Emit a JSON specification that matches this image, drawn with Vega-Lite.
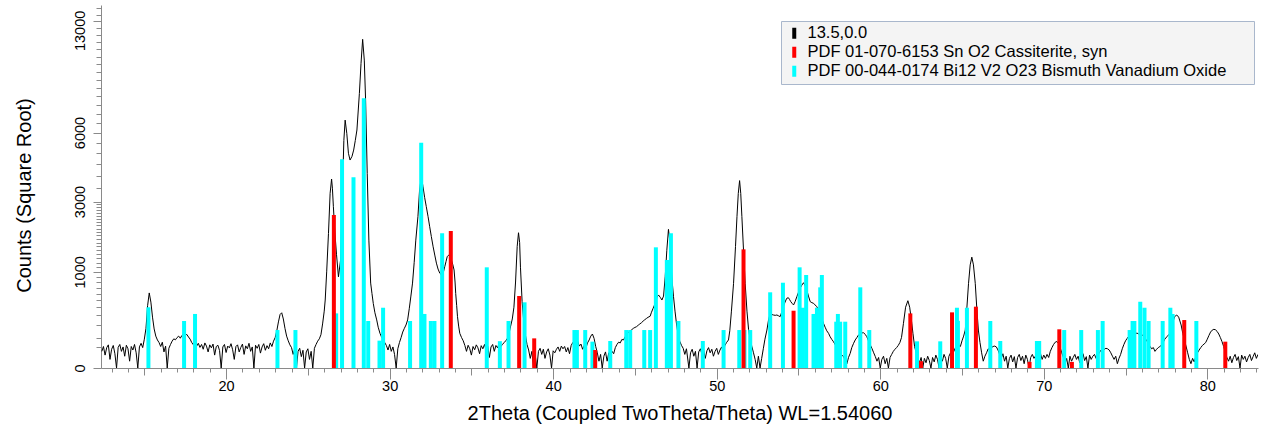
{
"$schema": "https://vega.github.io/schema/vega-lite/v6.json",
"width": 1157,
"height": 363,
"autosize": {"type": "none"},
"padding": {"left": 101, "top": 5, "right": 7, "bottom": 65},
"background": "white",
"config": {"view": {"stroke": null}, "font": "Liberation Sans"},
"datasets": {
"scan": [
{"x":12.4,"y":30},{"x":12.5,"y":50},{"x":12.6,"y":18},{"x":12.7,"y":45},{"x":12.8,"y":58},{"x":12.9,"y":8},{"x":13.0,"y":38},{"x":13.1,"y":55},{"x":13.2,"y":22},{"x":13.3,"y":0},{"x":13.4,"y":46},{"x":13.5,"y":60},{"x":13.6,"y":30},{"x":13.7,"y":48},{"x":13.8,"y":15},{"x":13.9,"y":56},{"x":14.0,"y":40},{"x":14.1,"y":5},{"x":14.2,"y":50},{"x":14.3,"y":35},{"x":14.4,"y":60},{"x":14.5,"y":25},{"x":14.6,"y":0},{"x":14.7,"y":48},{"x":14.8,"y":66},{"x":14.9,"y":45},
{"x":15.0,"y":90},{"x":15.1,"y":170},{"x":15.2,"y":420},{"x":15.3,"y":610},{"x":15.4,"y":470},{"x":15.5,"y":280},{"x":15.6,"y":165},{"x":15.7,"y":110},{"x":15.8,"y":85},{"x":15.9,"y":70},{"x":16.0,"y":50},{"x":16.1,"y":72},{"x":16.2,"y":28},{"x":16.3,"y":52},{"x":16.4,"y":0},{"x":16.5,"y":42},{"x":16.6,"y":60},{"x":16.7,"y":78},{"x":16.8,"y":92},{"x":16.9,"y":86},{"x":17.0,"y":100},{"x":17.1,"y":110},{"x":17.2,"y":96},{"x":17.3,"y":115},{"x":17.4,"y":125},{"x":17.5,"y":116},{"x":17.6,"y":122},{"x":17.7,"y":104},{"x":17.8,"y":90},{"x":17.9,"y":70},{"x":18.0,"y":58},{"x":18.1,"y":74},{"x":18.2,"y":52},{"x":18.3,"y":66},{"x":18.4,"y":46},{"x":18.5,"y":60},{"x":18.6,"y":38},{"x":18.7,"y":68},{"x":18.8,"y":52},{"x":18.9,"y":28},{"x":19.0,"y":58},{"x":19.1,"y":44},{"x":19.2,"y":62},{"x":19.3,"y":18},{"x":19.4,"y":50},{"x":19.5,"y":56},{"x":19.6,"y":33},{"x":19.7,"y":0},{"x":19.8,"y":48},{"x":19.9,"y":60},
{"x":20.0,"y":26},{"x":20.1,"y":52},{"x":20.2,"y":44},{"x":20.3,"y":64},{"x":20.4,"y":36},{"x":20.5,"y":8},{"x":20.6,"y":50},{"x":20.7,"y":58},{"x":20.8,"y":28},{"x":20.9,"y":46},{"x":21.0,"y":62},{"x":21.1,"y":20},{"x":21.2,"y":53},{"x":21.3,"y":40},{"x":21.4,"y":66},{"x":21.5,"y":30},{"x":21.6,"y":48},{"x":21.7,"y":0},{"x":21.8,"y":56},{"x":21.9,"y":42},{"x":22.0,"y":60},{"x":22.1,"y":24},{"x":22.2,"y":48},{"x":22.3,"y":64},{"x":22.4,"y":34},{"x":22.5,"y":54},{"x":22.6,"y":40},{"x":22.7,"y":68},{"x":22.8,"y":50},{"x":22.9,"y":78},{"x":23.0,"y":100},{"x":23.1,"y":150},{"x":23.2,"y":230},{"x":23.3,"y":310},{"x":23.4,"y":330},{"x":23.5,"y":260},{"x":23.6,"y":170},{"x":23.7,"y":110},{"x":23.8,"y":80},{"x":23.9,"y":58},{"x":24.0,"y":45},{"x":24.1,"y":20},{"x":24.2,"y":38},{"x":24.3,"y":0},{"x":24.4,"y":30},{"x":24.5,"y":42},{"x":24.6,"y":14},{"x":24.7,"y":34},{"x":24.8,"y":0},{"x":24.9,"y":28},
{"x":25.0,"y":40},{"x":25.1,"y":8},{"x":25.2,"y":30},{"x":25.3,"y":0},{"x":25.4,"y":42},{"x":25.5,"y":60},{"x":25.6,"y":78},{"x":25.7,"y":92},{"x":25.8,"y":120},{"x":25.9,"y":210},{"x":26.0,"y":350},{"x":26.06,"y":500},{"x":26.15,"y":1000},{"x":26.26,"y":1960},{"x":26.36,"y":3300},{"x":26.45,"y":3865},{"x":26.5,"y":3500},{"x":26.56,"y":2815},{"x":26.65,"y":2000},{"x":26.75,"y":1400},{"x":26.87,"y":900},{"x":27.0,"y":1260},{"x":27.1,"y":3050},{"x":27.2,"y":5600},{"x":27.28,"y":6650},{"x":27.38,"y":5960},{"x":27.48,"y":4990},{"x":27.58,"y":4680},{"x":27.7,"y":4850},{"x":27.8,"y":5140},{"x":27.9,"y":5600},{"x":28.0,"y":6130},{"x":28.15,"y":8160},{"x":28.25,"y":10040},{"x":28.35,"y":11690},{"x":28.45,"y":10260},{"x":28.53,"y":7770},{"x":28.63,"y":4100},{"x":28.73,"y":1770},{"x":28.84,"y":780},{"x":28.92,"y":600},{"x":29.0,"y":450},{"x":29.1,"y":330},{"x":29.21,"y":250},{"x":29.3,"y":180},{"x":29.41,"y":130},{"x":29.5,"y":105},{"x":29.62,"y":85},{"x":29.7,"y":70},{"x":29.8,"y":55},{"x":29.9,"y":35},
{"x":30.0,"y":60},{"x":30.1,"y":30},{"x":30.2,"y":48},{"x":30.3,"y":20},{"x":30.4,"y":0},{"x":30.5,"y":40},{"x":30.6,"y":70},{"x":30.7,"y":100},{"x":30.8,"y":140},{"x":30.9,"y":170},{"x":31.0,"y":200},{"x":31.1,"y":250},{"x":31.2,"y":380},{"x":31.3,"y":560},{"x":31.4,"y":780},{"x":31.5,"y":1200},{"x":31.6,"y":1770},{"x":31.73,"y":2480},{"x":31.83,"y":3430},{"x":31.94,"y":3960},{"x":32.04,"y":3560},{"x":32.14,"y":3150},{"x":32.24,"y":2820},{"x":32.35,"y":2480},{"x":32.45,"y":2160},{"x":32.55,"y":1870},{"x":32.66,"y":1590},{"x":32.76,"y":1380},{"x":32.86,"y":1190},{"x":32.96,"y":1060},{"x":33.07,"y":970},{"x":33.15,"y":945},{"x":33.23,"y":936},{"x":33.3,"y":1010},{"x":33.37,"y":1110},{"x":33.45,"y":1230},{"x":33.52,"y":1340},{"x":33.58,"y":1370},{"x":33.64,"y":1382},{"x":33.71,"y":1340},{"x":33.78,"y":1260},{"x":33.86,"y":1160},{"x":33.94,"y":1040},{"x":34.0,"y":800},{"x":34.04,"y":600},{"x":34.1,"y":420},{"x":34.15,"y":285},{"x":34.22,"y":190},{"x":34.29,"y":130},{"x":34.4,"y":100},{"x":34.5,"y":80},{"x":34.6,"y":55},{"x":34.7,"y":30},{"x":34.8,"y":56},{"x":34.9,"y":40},
{"x":35.0,"y":18},{"x":35.1,"y":50},{"x":35.2,"y":36},{"x":35.3,"y":58},{"x":35.4,"y":44},{"x":35.5,"y":22},{"x":35.6,"y":54},{"x":35.7,"y":40},{"x":35.8,"y":60},{"x":35.9,"y":34},{"x":36.0,"y":50},{"x":36.1,"y":12},{"x":36.2,"y":48},{"x":36.3,"y":60},{"x":36.4,"y":30},{"x":36.5,"y":55},{"x":36.6,"y":44},{"x":36.7,"y":66},{"x":36.8,"y":50},{"x":36.9,"y":60},{"x":37.0,"y":70},{"x":37.1,"y":80},{"x":37.2,"y":95},{"x":37.3,"y":130},{"x":37.4,"y":190},{"x":37.5,"y":260},{"x":37.6,"y":400},{"x":37.7,"y":800},{"x":37.8,"y":1600},{"x":37.88,"y":1980},{"x":37.95,"y":1700},{"x":38.0,"y":1100},{"x":38.1,"y":480},{"x":38.2,"y":240},{"x":38.3,"y":120},{"x":38.4,"y":60},{"x":38.5,"y":35},{"x":38.6,"y":10},{"x":38.7,"y":30},{"x":38.8,"y":0},{"x":38.9,"y":20},{"x":39.0,"y":0},{"x":39.1,"y":30},{"x":39.2,"y":42},{"x":39.3,"y":20},{"x":39.4,"y":38},{"x":39.5,"y":10},{"x":39.6,"y":28},{"x":39.7,"y":40},{"x":39.8,"y":18},{"x":39.9,"y":0},
{"x":40.0,"y":32},{"x":40.1,"y":25},{"x":40.2,"y":38},{"x":40.3,"y":48},{"x":40.4,"y":30},{"x":40.5,"y":52},{"x":40.6,"y":40},{"x":40.7,"y":50},{"x":40.8,"y":28},{"x":40.9,"y":45},{"x":41.0,"y":22},{"x":41.1,"y":55},{"x":41.2,"y":70},{"x":41.3,"y":82},{"x":41.4,"y":60},{"x":41.5,"y":78},{"x":41.6,"y":52},{"x":41.7,"y":62},{"x":41.8,"y":38},{"x":41.9,"y":55},{"x":42.0,"y":42},{"x":42.1,"y":68},{"x":42.2,"y":85},{"x":42.3,"y":110},{"x":42.4,"y":125},{"x":42.5,"y":95},{"x":42.6,"y":50},{"x":42.7,"y":25},{"x":42.8,"y":5},{"x":42.9,"y":20},{"x":43.0,"y":0},{"x":43.1,"y":15},{"x":43.2,"y":28},{"x":43.3,"y":5},{"x":43.4,"y":25},{"x":43.5,"y":12},{"x":43.6,"y":30},{"x":43.7,"y":22},{"x":43.8,"y":45},{"x":43.9,"y":60},{"x":44.0,"y":72},{"x":44.1,"y":68},{"x":44.2,"y":88},{"x":44.3,"y":85},{"x":44.4,"y":105},{"x":44.5,"y":125},{"x":44.6,"y":138},{"x":44.7,"y":150},{"x":44.8,"y":158},{"x":44.9,"y":170},
{"x":45.0,"y":178},{"x":45.1,"y":185},{"x":45.2,"y":198},{"x":45.3,"y":210},{"x":45.4,"y":222},{"x":45.5,"y":238},{"x":45.6,"y":252},{"x":45.7,"y":265},{"x":45.8,"y":278},{"x":45.93,"y":290},{"x":46.0,"y":330},{"x":46.1,"y":380},{"x":46.24,"y":453},{"x":46.35,"y":540},{"x":46.44,"y":577},{"x":46.55,"y":540},{"x":46.65,"y":500},{"x":46.75,"y":560},{"x":46.85,"y":900},{"x":46.95,"y":1500},{"x":47.05,"y":2080},{"x":47.12,"y":1800},{"x":47.2,"y":1200},{"x":47.28,"y":800},{"x":47.36,"y":550},{"x":47.45,"y":350},{"x":47.55,"y":200},{"x":47.66,"y":106},{"x":47.75,"y":75},{"x":47.85,"y":55},{"x":47.95,"y":42},{"x":48.05,"y":20},{"x":48.15,"y":40},{"x":48.3,"y":0},{"x":48.4,"y":25},{"x":48.5,"y":38},{"x":48.6,"y":15},{"x":48.7,"y":30},{"x":48.8,"y":0},{"x":48.9,"y":28},{"x":49.0,"y":40},{"x":49.1,"y":20},{"x":49.2,"y":35},{"x":49.3,"y":10},{"x":49.4,"y":32},{"x":49.5,"y":45},{"x":49.6,"y":25},{"x":49.7,"y":38},{"x":49.8,"y":15},{"x":49.9,"y":30},
{"x":50.0,"y":42},{"x":50.1,"y":20},{"x":50.2,"y":35},{"x":50.3,"y":48},{"x":50.4,"y":30},{"x":50.5,"y":55},{"x":50.6,"y":70},{"x":50.72,"y":85},{"x":50.8,"y":150},{"x":50.9,"y":350},{"x":51.03,"y":776},{"x":51.15,"y":1600},{"x":51.24,"y":2480},{"x":51.32,"y":3300},{"x":51.4,"y":3800},{"x":51.47,"y":3300},{"x":51.54,"y":2480},{"x":51.64,"y":1500},{"x":51.74,"y":776},{"x":51.85,"y":350},{"x":51.95,"y":160},{"x":52.05,"y":85},{"x":52.15,"y":50},{"x":52.25,"y":25},{"x":52.35,"y":8},{"x":52.45,"y":0},{"x":52.55,"y":15},{"x":52.65,"y":0},{"x":52.75,"y":10},{"x":52.85,"y":40},{"x":52.95,"y":90},{"x":53.07,"y":156},{"x":53.17,"y":250},{"x":53.27,"y":323},{"x":53.37,"y":310},{"x":53.47,"y":304},{"x":53.58,"y":300},{"x":53.68,"y":304},{"x":53.78,"y":295},{"x":53.88,"y":285},{"x":53.98,"y":340},{"x":54.08,"y":407},{"x":54.18,"y":470},{"x":54.28,"y":525},{"x":54.38,"y":535},{"x":54.45,"y":510},{"x":54.53,"y":476},{"x":54.62,"y":450},{"x":54.7,"y":430},{"x":54.8,"y":480},{"x":54.9,"y":550},
{"x":55.0,"y":620},{"x":55.1,"y":687},{"x":55.2,"y":740},{"x":55.31,"y":787},{"x":55.41,"y":730},{"x":55.51,"y":658},{"x":55.61,"y":560},{"x":55.72,"y":476},{"x":55.82,"y":462},{"x":55.92,"y":453},{"x":56.02,"y":430},{"x":56.12,"y":407},{"x":56.22,"y":370},{"x":56.33,"y":323},{"x":56.43,"y":265},{"x":56.53,"y":216},{"x":56.63,"y":180},{"x":56.73,"y":150},{"x":56.84,"y":130},{"x":56.94,"y":105},{"x":57.04,"y":88},{"x":57.14,"y":75},{"x":57.25,"y":58},{"x":57.35,"y":45},{"x":57.45,"y":35},{"x":57.55,"y":25},{"x":57.65,"y":18},{"x":57.76,"y":14},{"x":57.86,"y":6},{"x":57.96,"y":2},{"x":58.06,"y":12},{"x":58.16,"y":23},{"x":58.26,"y":45},{"x":58.37,"y":66},{"x":58.47,"y":85},{"x":58.57,"y":100},{"x":58.67,"y":118},{"x":58.78,"y":128},{"x":58.88,"y":133},{"x":58.98,"y":135},{"x":59.08,"y":122},{"x":59.18,"y":106},{"x":59.28,"y":80},{"x":59.38,"y":60},{"x":59.49,"y":42},{"x":59.6,"y":25},{"x":59.7,"y":14},{"x":59.8,"y":5},{"x":59.9,"y":12},
{"x":60.0,"y":0},{"x":60.1,"y":8},{"x":60.2,"y":15},{"x":60.3,"y":2},{"x":60.4,"y":10},{"x":60.5,"y":0},{"x":60.6,"y":12},{"x":60.7,"y":20},{"x":60.8,"y":30},{"x":60.9,"y":38},{"x":61.0,"y":45},{"x":61.1,"y":55},{"x":61.2,"y":70},{"x":61.3,"y":100},{"x":61.42,"y":216},{"x":61.55,"y":400},{"x":61.69,"y":490},{"x":61.8,"y":400},{"x":61.93,"y":216},{"x":62.0,"y":130},{"x":62.1,"y":50},{"x":62.2,"y":25},{"x":62.3,"y":10},{"x":62.4,"y":3},{"x":62.5,"y":12},{"x":62.6,"y":0},{"x":62.7,"y":10},{"x":62.8,"y":3},{"x":62.9,"y":15},{"x":63.0,"y":6},{"x":63.1,"y":0},{"x":63.2,"y":12},{"x":63.3,"y":4},{"x":63.4,"y":18},{"x":63.5,"y":8},{"x":63.6,"y":0},{"x":63.7,"y":14},{"x":63.8,"y":5},{"x":63.9,"y":20},{"x":64.0,"y":10},{"x":64.1,"y":0},{"x":64.2,"y":15},{"x":64.3,"y":25},{"x":64.4,"y":12},{"x":64.5,"y":30},{"x":64.6,"y":45},{"x":64.7,"y":38},{"x":64.8,"y":55},{"x":64.9,"y":50},
{"x":65.0,"y":80},{"x":65.1,"y":110},{"x":65.2,"y":156},{"x":65.3,"y":400},{"x":65.4,"y":776},{"x":65.5,"y":1150},{"x":65.6,"y":1330},{"x":65.7,"y":1150},{"x":65.81,"y":776},{"x":65.9,"y":400},{"x":66.0,"y":156},{"x":66.1,"y":70},{"x":66.2,"y":25},{"x":66.3,"y":5},{"x":66.4,"y":15},{"x":66.5,"y":25},{"x":66.6,"y":40},{"x":66.7,"y":35},{"x":66.8,"y":45},{"x":66.9,"y":50},{"x":67.0,"y":52},{"x":67.1,"y":48},{"x":67.2,"y":35},{"x":67.3,"y":20},{"x":67.4,"y":10},{"x":67.5,"y":22},{"x":67.6,"y":5},{"x":67.7,"y":15},{"x":67.8,"y":0},{"x":67.9,"y":10},{"x":68.0,"y":18},{"x":68.1,"y":4},{"x":68.2,"y":14},{"x":68.3,"y":0},{"x":68.4,"y":12},{"x":68.5,"y":20},{"x":68.6,"y":6},{"x":68.7,"y":15},{"x":68.8,"y":2},{"x":68.9,"y":18},{"x":69.0,"y":8},{"x":69.1,"y":0},{"x":69.2,"y":12},{"x":69.3,"y":20},{"x":69.4,"y":10},{"x":69.5,"y":16},{"x":69.6,"y":5},{"x":69.7,"y":14},{"x":69.8,"y":22},{"x":69.9,"y":8},
{"x":70.0,"y":18},{"x":70.1,"y":10},{"x":70.2,"y":20},{"x":70.3,"y":12},{"x":70.4,"y":30},{"x":70.5,"y":45},{"x":70.6,"y":60},{"x":70.7,"y":72},{"x":70.8,"y":76},{"x":70.9,"y":65},{"x":71.0,"y":45},{"x":71.1,"y":25},{"x":71.2,"y":12},{"x":71.3,"y":2},{"x":71.4,"y":10},{"x":71.5,"y":0},{"x":71.6,"y":15},{"x":71.7,"y":5},{"x":71.8,"y":12},{"x":71.9,"y":20},{"x":72.0,"y":8},{"x":72.1,"y":15},{"x":72.2,"y":3},{"x":72.3,"y":12},{"x":72.4,"y":22},{"x":72.5,"y":6},{"x":72.6,"y":14},{"x":72.7,"y":0},{"x":72.8,"y":18},{"x":72.9,"y":8},{"x":73.0,"y":15},{"x":73.1,"y":20},{"x":73.2,"y":10},{"x":73.3,"y":18},{"x":73.4,"y":25},{"x":73.5,"y":35},{"x":73.6,"y":30},{"x":73.7,"y":38},{"x":73.8,"y":42},{"x":73.9,"y":40},{"x":74.0,"y":35},{"x":74.1,"y":25},{"x":74.2,"y":15},{"x":74.3,"y":8},{"x":74.4,"y":15},{"x":74.5,"y":2},{"x":74.6,"y":10},{"x":74.7,"y":20},{"x":74.8,"y":40},{"x":74.9,"y":60},
{"x":75.0,"y":80},{"x":75.1,"y":95},{"x":75.2,"y":110},{"x":75.3,"y":118},{"x":75.4,"y":125},{"x":75.5,"y":120},{"x":75.6,"y":128},{"x":75.7,"y":132},{"x":75.8,"y":125},{"x":75.9,"y":130},{"x":76.0,"y":120},{"x":76.1,"y":110},{"x":76.2,"y":95},{"x":76.3,"y":80},{"x":76.4,"y":65},{"x":76.5,"y":50},{"x":76.6,"y":40},{"x":76.7,"y":45},{"x":76.8,"y":30},{"x":76.9,"y":38},{"x":77.0,"y":45},{"x":77.1,"y":50},{"x":77.2,"y":57},{"x":77.3,"y":70},{"x":77.4,"y":90},{"x":77.53,"y":106},{"x":77.64,"y":120},{"x":77.74,"y":135},{"x":77.82,"y":180},{"x":77.9,"y":230},{"x":78.0,"y":285},{"x":78.13,"y":304},{"x":78.25,"y":280},{"x":78.4,"y":200},{"x":78.5,"y":130},{"x":78.65,"y":68},{"x":78.8,"y":25},{"x":78.9,"y":8},{"x":79.0,"y":2},{"x":79.1,"y":10},{"x":79.2,"y":4},{"x":79.3,"y":15},{"x":79.4,"y":25},{"x":79.5,"y":35},{"x":79.6,"y":45},{"x":79.7,"y":55},{"x":79.8,"y":62},{"x":79.9,"y":70},
{"x":80.0,"y":90},{"x":80.1,"y":115},{"x":80.2,"y":140},{"x":80.3,"y":155},{"x":80.4,"y":162},{"x":80.5,"y":158},{"x":80.6,"y":145},{"x":80.7,"y":125},{"x":80.8,"y":100},{"x":80.9,"y":75},{"x":81.0,"y":50},{"x":81.1,"y":25},{"x":81.2,"y":12},{"x":81.3,"y":5},{"x":81.4,"y":15},{"x":81.5,"y":3},{"x":81.6,"y":12},{"x":81.7,"y":20},{"x":81.8,"y":6},{"x":81.9,"y":14},{"x":82.0,"y":0},{"x":82.1,"y":18},{"x":82.2,"y":8},{"x":82.3,"y":15},{"x":82.4,"y":4},{"x":82.5,"y":12},{"x":82.6,"y":20},{"x":82.7,"y":6},{"x":82.8,"y":14},{"x":82.9,"y":25},{"x":83.0,"y":10},{"x":83.1,"y":20}
],
"bi": [
{"x":15.25,"h":399},{"x":17.43,"h":239},{"x":18.1,"h":316},{"x":23.14,"h":156},{"x":24.24,"h":156},{"x":26.73,"h":323},{"x":27.09,"h":4713},{"x":27.79,"h":3935},{"x":28.42,"h":7870},{"x":28.69,"h":239},{"x":29.38,"h":81},{"x":29.6,"h":393},{"x":31.25,"h":239},{"x":31.93,"h":5493},{"x":32.13,"h":316},{"x":32.52,"h":239},{"x":32.74,"h":239},{"x":33.21,"h":1963},{"x":35.94,"h":1097},{"x":36.74,"h":78},{"x":37.27,"h":239},{"x":38.25,"h":467},{"x":41.3,"h":156},{"x":41.45,"h":156},{"x":41.96,"h":156},{"x":42.4,"h":75},{"x":43.49,"h":79},{"x":44.47,"h":156},{"x":44.71,"h":156},{"x":45.57,"h":156},{"x":45.93,"h":156},{"x":46.28,"h":1576},{"x":46.95,"h":1262},{"x":47.05,"h":1262},{"x":47.2,"h":1963},{"x":47.66,"h":239},{"x":49.15,"h":79},{"x":50.42,"h":156},{"x":51.38,"h":156},{"x":51.7,"h":156},{"x":52.05,"h":156},{"x":53.27,"h":620},{"x":54.05,"h":787},{"x":55.07,"h":1097},{"x":55.27,"h":393},{"x":55.47,"h":936},{"x":55.92,"h":316},{"x":56.13,"h":393},{"x":56.33,"h":704},{"x":56.43,"h":936},{"x":57.31,"h":232},{"x":57.41,"h":316},{"x":57.55,"h":232},{"x":57.86,"h":232},{"x":58.78,"h":704},{"x":59.33,"h":156},{"x":62.25,"h":77},{"x":63.67,"h":77},{"x":64.69,"h":393},{"x":64.75,"h":241},{"x":65.3,"h":393},{"x":66.73,"h":239},{"x":67.34,"h":79},{"x":69.58,"h":79},{"x":69.72,"h":79},{"x":71.25,"h":156},{"x":72.29,"h":156},{"x":73.31,"h":156},{"x":73.6,"h":239},{"x":75.25,"h":156},{"x":75.43,"h":239},{"x":75.54,"h":239},{"x":75.9,"h":475},{"x":76.16,"h":393},{"x":76.41,"h":239},{"x":77.27,"h":239},{"x":77.74,"h":393},{"x":77.88,"h":316},{"x":79.33,"h":239}
],
"sn": [
{"x":26.59,"h":2533},{"x":33.74,"h":2031},{"x":37.92,"h":561},{"x":38.84,"h":95},{"x":42.57,"h":35},{"x":51.64,"h":1524},{"x":54.7,"h":355},{"x":61.84,"h":323},{"x":62.49,"h":5},{"x":64.39,"h":335},{"x":65.85,"h":407},{"x":69.13,"h":4},{"x":70.95,"h":162},{"x":71.72,"h":4},{"x":78.59,"h":249},{"x":81.1,"h":75}
]
},
"resolve": {"axis": {"x": "independent", "y": "independent"}},
"layer": [
{
"data": {"name": "scan"},
"mark": {"type": "line", "strokeWidth": 1, "clip": true},
"encoding": {
"x": {"field": "x", "type": "quantitative",
 "scale": {"domain": [12.35, 83.1], "nice": false, "zero": false},
 "axis": {
  "orient": "bottom",
  "title": "2Theta (Coupled TwoTheta/Theta) WL=1.54060",
  "values": [20,30,40,50,60,70,80],
  "grid": false,
  "domainColor": "#8a8a8a",
  "tickColor": "#8a8a8a",
  "tickSize": 11,
  "labelFont": "Liberation Sans", "labelFontSize": 14.5, "labelColor": "#000000", "labelPadding": 0, "labelFlush": false,
  "titleFont": "Liberation Sans", "titleFontSize": 20, "titleFontWeight": "normal", "titleColor": "#000000",
  "titleY": 45, "titleBaseline": "middle"
 }},
"y": {"field": "y", "type": "quantitative",
 "scale": {"type": "sqrt", "domain": [0, 14260], "nice": false},
 "axis": {
  "orient": "left",
  "title": "Counts (Square Root)",
  "values": [0,1000,3000,6000,13000],
  "format": "d",
  "grid": false,
  "domainColor": "#8a8a8a",
  "tickColor": "#8a8a8a",
  "tickSize": 8,
  "labelAngle": 270, "labelAlign": "center", "labelBaseline": "bottom",
  "labelOffset": {"condition": {"test": "datum.value === 13000", "value": 9}, "value": 0},
  "labelFont": "Liberation Sans", "labelFontSize": 14.5, "labelColor": "#000000", "labelPadding": 6, "labelFlush": false,
  "titleFont": "Liberation Sans", "titleFontSize": 20, "titleFontWeight": "normal", "titleColor": "#000000",
  "titleAngle": 270, "titleAlign": "center", "titleBaseline": "middle", "titleX": -77, "titleY": 190
 }},
"color": {"datum": "13.5,0.0", "type": "nominal",
 "scale": {"domain": ["13.5,0.0", "PDF 01-070-6153 Sn O2 Cassiterite, syn", "PDF 00-044-0174 Bi12 V2 O23 Bismuth Vanadium Oxide"], "range": ["#000000", "#ff0000", "#00ffff"]},
 "legend": {"title": "\u00a0", "titleOrient": "right", "titleFontSize": 2, "titlePadding": 24,
  "orient": "none", "legendX": 680, "legendY": 16,
  "symbolType": "M0,-1L0,1", "symbolSize": 121, "symbolStrokeWidth": 4, "symbolOffset": 1,
  "labelFont": "Liberation Sans", "labelFontSize": 16.5, "labelColor": "#000000", "labelOffset": 5, "labelLimit": 800,
  "rowPadding": 2, "padding": 4, "fillColor": "#f4f4f4", "strokeColor": "#a9b7cc", "cornerRadius": 0,
  "encode": {"symbols": {"update": {"strokeJoin": {"value": "bevel"}}}}}}
}
},
{
"data": {"name": "bi"},
"mark": {"type": "rule", "strokeWidth": 4},
"encoding": {
"x": {"field": "x", "type": "quantitative",
 "axis": {"orient": "bottom", "values": [15,25,35,45,55,65,75], "labels": false, "domain": false, "title": null, "grid": false, "tickColor": "#8a8a8a", "tickSize": 7}},
"y": {"field": "h", "type": "quantitative",
 "axis": {"orient": "left", "values": [50,100,200,300,400,500,600,700,800,900,1100,1200,1300,1400,1500,1600,1700,1800,1900,2000,2100,2200,2300,2400,2500,2600,2700,2800,2900,3500,4000,4500,5000,5500,6500,7000,7500,8000,8500,9000,9500,10000,10500,11000,11500,12000,12500,13500,14000], "labels": false, "domain": false, "title": null, "grid": false, "tickColor": "#8a8a8a", "tickSize": 5}},
"y2": {"datum": 0},
"color": {"datum": "PDF 00-044-0174 Bi12 V2 O23 Bismuth Vanadium Oxide", "type": "nominal"}
}
},
{
"data": {"name": "sn"},
"mark": {"type": "rule", "strokeWidth": 4},
"encoding": {
"x": {"field": "x", "type": "quantitative",
 "axis": {"orient": "bottom", "values": [13,14,16,17,18,19,21,22,23,24,26,27,28,29,31,32,33,34,36,37,38,39,41,42,43,44,46,47,48,49,51,52,53,54,56,57,58,59,61,62,63,64,66,67,68,69,71,72,73,74,76,77,78,79,81,82,83], "labels": false, "domain": false, "title": null, "grid": false, "tickColor": "#8a8a8a", "tickSize": 4}},
"y": {"field": "h", "type": "quantitative", "axis": null},
"y2": {"datum": 0},
"color": {"datum": "PDF 01-070-6153 Sn O2 Cassiterite, syn", "type": "nominal"}
}
}
]
}
